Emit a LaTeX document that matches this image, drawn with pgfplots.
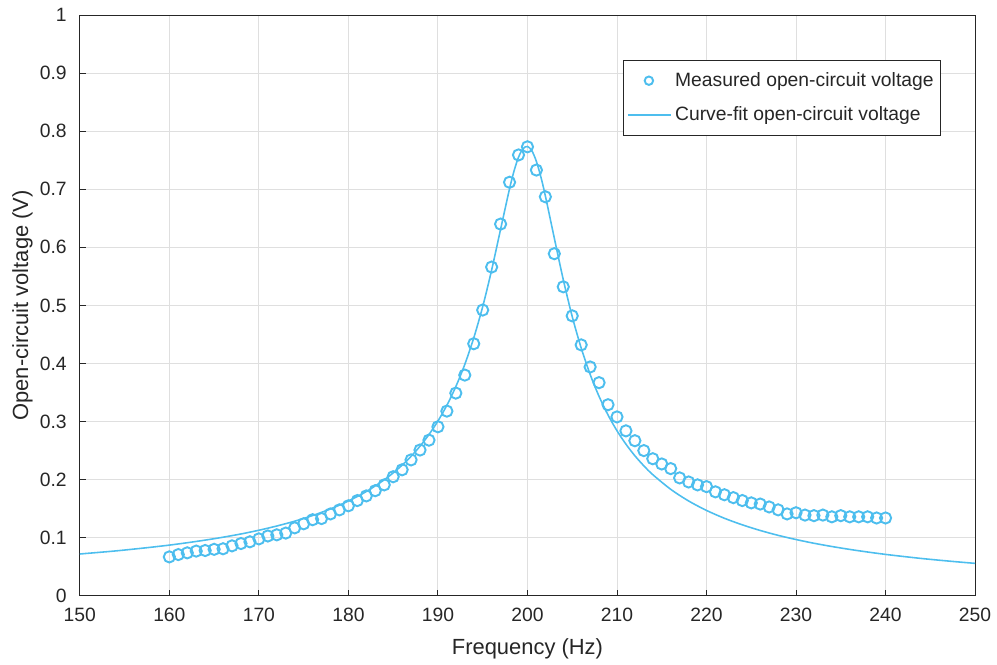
\documentclass[border=0pt]{standalone}
\usepackage{fontspec}
\setmainfont{Liberation Sans}
\usepackage{pgfplots}
\pgfplotsset{compat=1.18}
\definecolor{mblue}{RGB}{77,190,238}
\definecolor{axgray}{RGB}{38,38,38}
\definecolor{gridgray}{RGB}{223,223,223}
\begin{document}
\begin{tikzpicture}
\begin{axis}[
  scale only axis,
  width=17.94cm, height=11.64cm,
  xmin=150, xmax=250, ymin=0, ymax=1,
  xtick={150,160,...,250},
  ytick={0,0.1,...,1},
  yticklabels={0,0.1,0.2,0.3,0.4,0.5,0.6,0.7,0.8,0.9,1},
  /pgf/number format/assume math mode=true,
  tick label style={font=\fontsize{11}{13}\selectfont, text=axgray},
  xticklabel style={yshift=-0.12cm},
  yticklabel style={xshift=-0.14cm},
  label style={font=\fontsize{12.5}{15}\selectfont, text=axgray},
  xlabel={Frequency (Hz)},
  ylabel={Open-circuit voltage (V)},
  xlabel style={yshift=-0.1cm},
  ylabel style={yshift=-0.1cm},
  grid=major,
  major grid style={gridgray, line width=0.5pt},
  axis line style={axgray, line width=0.5pt},
  tick style={axgray, line width=0.5pt},
  tick align=inside,
  major tick length=0.12cm,
  xtick pos=bottom, ytick pos=left,
  legend style={at={(0.962,0.923)}, anchor=north east, draw=axgray, line width=0.5pt,
    font=\fontsize{11}{13}\selectfont, text=axgray, row sep=6pt, inner xsep=2pt, inner ysep=5pt},
  legend cell align=left,
]
\addplot[only marks, mark=o, mark size=3.2pt, draw=mblue, mark options={line width=1.1pt, draw=mblue},
  legend image code/.code={\draw[mblue, line width=1.1pt] (0.42cm,0cm) circle (2.4pt);}] coordinates {
(160,0.067) (161,0.071) (162,0.074) (163,0.077) (164,0.078) (165,0.080) (166,0.081)
(167,0.086) (168,0.090) (169,0.093) (170,0.098) (171,0.103) (172,0.105) (173,0.108)
(174,0.117) (175,0.124) (176,0.131) (177,0.133) (178,0.141) (179,0.148) (180,0.155)
(181,0.164) (182,0.172) (183,0.181) (184,0.191) (185,0.205) (186,0.217) (187,0.234)
(188,0.251) (189,0.268) (190,0.291) (191,0.318) (192,0.349) (193,0.380) (194,0.434)
(195,0.492) (196,0.566) (197,0.640) (198,0.712) (199,0.759) (200,0.773) (201,0.733)
(202,0.687) (203,0.589) (204,0.532) (205,0.482) (206,0.432) (207,0.394) (208,0.367)
(209,0.329) (210,0.308) (211,0.284) (212,0.267) (213,0.250) (214,0.236) (215,0.227)
(216,0.219) (217,0.203) (218,0.196) (219,0.191) (220,0.188) (221,0.179) (222,0.174)
(223,0.169) (224,0.164) (225,0.160) (226,0.158) (227,0.153) (228,0.148) (229,0.141)
(230,0.143) (231,0.139) (232,0.138) (233,0.139) (234,0.136) (235,0.138) (236,0.136)
(237,0.136) (238,0.136) (239,0.134) (240,0.134)
};
\addlegendentry{Measured open-circuit voltage}
\addplot[mblue, line width=0.9pt, no marks, smooth,
  legend image code/.code={\draw[mblue, line width=0.9pt] (0cm,0cm) -- (0.86cm,0cm);}] coordinates {
(150,0.0720) (152,0.0746) (154,0.0773) (156,0.0804) (158,0.0837) (160,0.0873)
(162,0.0914) (164,0.0959) (166,0.1009) (168,0.1065) (170,0.1129) (172,0.1202)
(174,0.1285) (176,0.1382) (178,0.1496) (180,0.1632) (182,0.1795) (184,0.1997)
(185,0.2116) (186,0.2250) (187,0.2402) (188,0.2576) (189,0.2777) (190,0.3009)
(191,0.3281) (192,0.3602) (193,0.3984) (194,0.4439) (195,0.4978) (196,0.5610)
(197,0.6311) (198,0.7009) (198.5,0.7313) (199,0.7550) (199.5,0.7697) (200,0.7736)
(200.5,0.7660) (201,0.7478) (201.5,0.7210) (202,0.6885) (203,0.6158) (204,0.5444)
(205,0.4808) (206,0.4267) (207,0.3813) (208,0.3433) (209,0.3113) (210,0.2842)
(211,0.2611) (212,0.2411) (213,0.2238) (214,0.2086) (216,0.1834) (218,0.1633)
(220,0.1470) (222,0.1335) (224,0.1222) (226,0.1125) (228,0.1041) (230,0.0969)
(232,0.0905) (234,0.0849) (236,0.0799) (238,0.0754) (240,0.0713) (242,0.0677)
(244,0.0643) (246,0.0613) (248,0.0585) (250,0.0559)
};
\addlegendentry{Curve-fit open-circuit voltage}
\end{axis}
\path (current axis.south west) ++(-1.60cm,-1.34cm);
\path (current axis.north east) ++(0.40cm,0.30cm);
\end{tikzpicture}
\end{document}
